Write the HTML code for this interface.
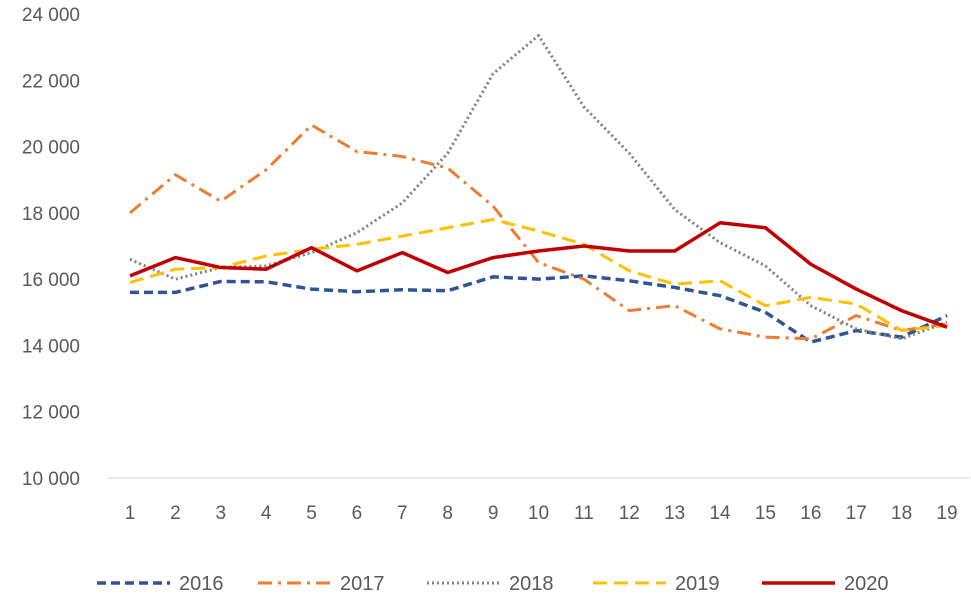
<!DOCTYPE html>
<html><head><meta charset="utf-8"><style>
body{margin:0;background:#fff;}
svg text{font-family:"Liberation Sans",sans-serif;fill:#595959;}
</style></head><body>
<svg id="chart" width="971" height="600" xmlns="http://www.w3.org/2000/svg"></svg>
<script>
const categories=[1,2,3,4,5,6,7,8,9,10,11,12,13,14,15,16,17,18,19];
const yTicks=[10000,12000,14000,16000,18000,20000,22000,24000];
const yTickLabels=["10 000","12 000","14 000","16 000","18 000","20 000","22 000","24 000"];
const s2016=[15600,15600,15930,15920,15700,15620,15680,15650,16070,16000,16100,15950,15750,15500,15000,14100,14450,14250,14900];
const s2017=[18000,19150,18350,19300,20650,19850,19700,19350,18200,16500,16000,15050,15200,14500,14250,14200,14900,14450,14650];
const s2018=[16600,16000,16350,16400,16800,17400,18300,19800,22200,23350,21200,19800,18100,17100,16400,15200,14500,14200,14700];
const s2019=[15900,16300,16350,16700,16900,17050,17300,17550,17800,17450,17050,16250,15850,15950,15200,15450,15250,14450,14600];
const s2020=[16100,16650,16350,16300,16950,16250,16800,16200,16650,16850,17000,16850,16850,17700,17550,16450,15700,15050,14550];
const seriesNames=["2016","2017","2018","2019","2020"];

const svg=document.getElementById('chart');
const NS="http://www.w3.org/2000/svg";
const x=i=>130+i*(947-130)/(categories.length-1);
const y=v=>478-(v-10000)*(478-14)/14000;
function mk(t,a){const e=document.createElementNS(NS,t);for(const k in a)e.setAttribute(k,a[k]);svg.appendChild(e);return e;}

const axis=mk('line',{x1:107,x2:970,y1:y(10000),y2:y(10000),stroke:'#d9d9d9','stroke-width':1});



yTicks.forEach((v,i)=>{
  const t=mk('text',{x:80,y:y(v)+7,'text-anchor':'end','font-size':19});
  t.textContent=yTickLabels[i];
  
  
});
categories.forEach((c,i)=>{
  const t=mk('text',{x:x(i),y:519,'text-anchor':'middle','font-size':19});
  t.textContent=c;
  
  
});

const styles=[
 {c:'#2f5597',d:'9,5',w:3.5},
 {c:'#ed7d31',d:'14,6,3,6',w:3},
 {c:'#7f7f7f',d:'2,3',w:3},
 {c:'#ffc000',d:'14,7',w:3},
 {c:'#c00000',d:'',w:3.5}
];
const allSeries=[s2016,s2017,s2018,s2019,s2020];
allSeries.forEach((s,k)=>{
  const st=styles[k];
  const p=mk('polyline',{points:s.map((v,i)=>x(i)+','+y(v)).join(' '),fill:'none',stroke:st.c,'stroke-width':st.w,'stroke-dasharray':st.d,'stroke-linejoin':'round'});
  
  
});

const legendX=[97,258,427,593,762];
seriesNames.forEach((n,k)=>{
  const st=styles[k];
  const l=mk('line',{x1:legendX[k],x2:legendX[k]+73,y1:583,y2:583,stroke:st.c,'stroke-width':st.w,'stroke-dasharray':st.d});
  
  
  const t=mk('text',{x:legendX[k]+82,y:590,'font-size':20});
  t.textContent=n;
  
  
});
</script>
</body></html>
